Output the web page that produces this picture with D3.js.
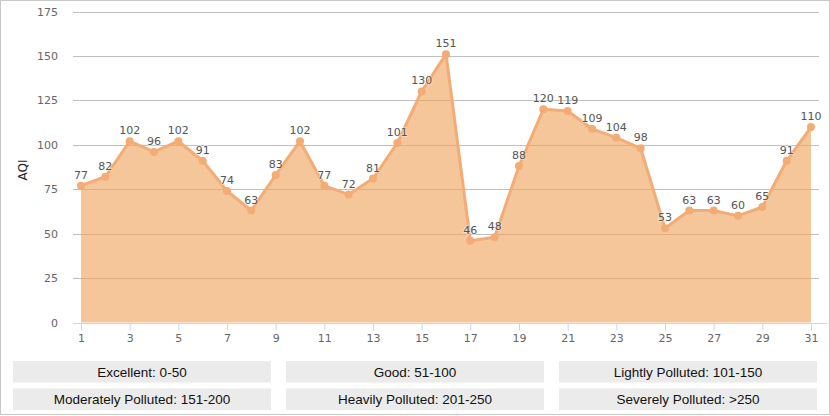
<!DOCTYPE html>
<html>
<head>
<meta charset="utf-8">
<script src="https://cdn.jsdelivr.net/npm/d3@7"></script>
<style>
  html, body { margin: 0; padding: 0; background: #fff; }
  #chart { width: 830px; height: 416px; position: relative; }
  svg { display: block; }
</style>
</head>
<body>
<div id="chart"></div>
<script>
// ---------- DATA ----------
const days = d3.range(1, 32);
const aqi = [77, 82, 102, 96, 102, 91, 74, 63, 83, 102, 77, 72, 81, 101, 130, 151,
  46, 48, 88, 120, 119, 109, 104, 98, 53, 63, 63, 60, 65, 91, 110];
const yTicks = [0, 25, 50, 75, 100, 125, 150, 175];
const xTicks = [1, 3, 5, 7, 9, 11, 13, 15, 17, 19, 21, 23, 25, 27, 29, 31];
const levels = [
  "Excellent: 0-50", "Good: 51-100", "Lightly Polluted: 101-150",
  "Moderately Polluted: 151-200", "Heavily Polluted: 201-250", "Severely Polluted: >250",
];

const width = 830;
const height = 416;

const svg = d3.select("#chart")
  .append("svg")
  .attr("width", width)
  .attr("height", height);

// outer frame
svg.append("rect")
  .attr("x", 0.5).attr("y", 0.5)
  .attr("width", width - 1).attr("height", height - 2)
  .attr("fill", "none")
  .attr("stroke", "#c8c8c8");

const x = d3.scaleLinear().domain([1, 31]).range([81, 811]);
const y = d3.scaleLinear().domain([0, 175]).range([322.5, 11.5]);

const font = "'DejaVu Sans', Verdana, sans-serif";
const legendFont = "'Liberation Sans', Arial, sans-serif";

// grid
svg.append("g")
  .selectAll("line")
  .data(yTicks.filter((d) => d > 0))
  .enter()
  .append("line")
  .attr("x1", 73).attr("x2", 819)
  .attr("y1", (d) => Math.round(y(d)) + 0.5)
  .attr("y2", (d) => Math.round(y(d)) + 0.5)
  .attr("stroke", "#c0c0c0")
  .attr("stroke-width", 1);

// y labels
svg.append("g")
  .selectAll("text")
  .data(yTicks)
  .enter()
  .append("text")
  .attr("x", 58)
  .attr("y", (d) => y(d) + 4)
  .attr("text-anchor", "end")
  .attr("font-family", font)
  .attr("font-size", 11)
  .attr("fill", "#666")
  .text((d) => d);

svg.append("text")
  .attr("transform", "translate(27,170) rotate(-90)")
  .attr("text-anchor", "middle")
  .attr("font-family", font)
  .attr("font-size", 12)
  .attr("fill", "#222")
  .text("AQI");

// x axis
const xAxis = d3.axisBottom(x)
  .tickValues(xTicks)
  .tickSize(7)
  .tickPadding(4)
  .tickFormat(d3.format("d"));

const gx = svg.append("g")
  .attr("transform", `translate(0,${Math.round(y(0)) + 0.5})`)
  .call(xAxis);
gx.select(".domain").attr("stroke", "#ccd6eb").attr("d", "M73,0H827");
gx.selectAll(".tick line").attr("stroke", "#ccd6eb");
gx.selectAll(".tick text")
  .attr("font-family", font)
  .attr("font-size", 11)
  .attr("fill", "#666");

// area + line
const pts = days.map((d, i) => [d, aqi[i]]);
const area = d3.area()
  .x((d) => x(d[0]))
  .y0(y(0))
  .y1((d) => y(d[1]));
const line = d3.line()
  .x((d) => x(d[0]))
  .y((d) => y(d[1]));

svg.append("path")
  .datum(pts)
  .attr("d", area)
  .attr("fill", "#f0a35e")
  .attr("fill-opacity", 0.62);

svg.append("path")
  .datum(pts)
  .attr("d", line)
  .attr("fill", "none")
  .attr("stroke", "#f4ab74")
  .attr("stroke-width", 3)
  .attr("stroke-linejoin", "round");

svg.append("g")
  .selectAll("circle")
  .data(pts)
  .enter()
  .append("circle")
  .attr("cx", (d) => x(d[0]))
  .attr("cy", (d) => y(d[1]))
  .attr("r", 4)
  .attr("fill", "#f4ab74");

// value labels
svg.append("g")
  .selectAll("text")
  .data(pts)
  .enter()
  .append("text")
  .attr("x", (d) => x(d[0]))
  .attr("y", (d) => y(d[1]) - 7)
  .attr("text-anchor", "middle")
  .attr("font-family", font)
  .attr("font-size", 11)
  .attr("fill", "#555")
  .attr("stroke", "#fff")
  .attr("stroke-width", 2)
  .attr("stroke-opacity", 0.4)
  .attr("paint-order", "stroke")
  .text((d) => d[1]);

// legend boxes
const legendX = d3.scaleBand().domain([0, 1, 2]).range([13, 817]).paddingInner(15 / 273);
const legendY = d3.scaleBand().domain([0, 1]).range([361, 410]).paddingInner(0.22);

const cell = svg.append("g")
  .selectAll("g")
  .data(levels)
  .enter()
  .append("g")
  .attr("transform", (d, i) => `translate(${legendX(i % 3)},${legendY(Math.floor(i / 3))})`);

cell.append("rect")
  .attr("width", legendX.bandwidth())
  .attr("height", legendY.bandwidth())
  .attr("fill", "#ebebeb");

cell.append("text")
  .attr("x", legendX.bandwidth() / 2)
  .attr("y", legendY.bandwidth() / 2 + 5)
  .attr("text-anchor", "middle")
  .attr("font-family", legendFont)
  .attr("font-size", 13.5)
  .attr("fill", "#111")
  .text((d) => d);
</script>
</body>
</html>
